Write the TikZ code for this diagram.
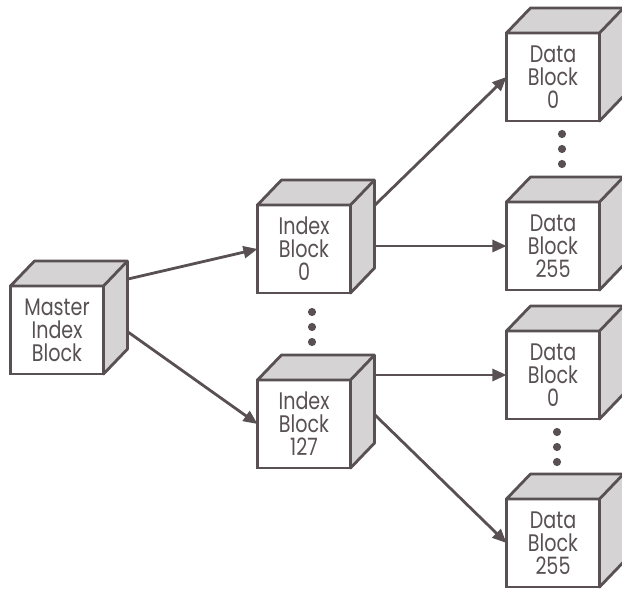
\documentclass[tikz,border=0pt]{standalone}
\usepackage{fontspec}
\usetikzlibrary{arrows.meta}
\newfontfamily\blockfont{Poppins}[FakeStretch=0.8]
\definecolor{ink}{RGB}{88,80,82}
\newcommand{\cubeback}[1]{%
  \filldraw[blockside] (#1.north west) -- ++(24,-25) -- ([shift={(24,-25)}]#1.north east)
    -- ([shift={(24,-25)}]#1.south east) -- (#1.south east) -- (#1.north east) -- cycle;
  \draw[blockside] (#1.north east) -- ++(24,-25);
}

\begin{document}
\begin{tikzpicture}[x=0.025cm, y=-0.025cm,
    blockface/.style ={draw=ink, line width=2pt, fill=white, text=ink, align=center,
      minimum width=2.325cm, minimum height=2.2cm, inner sep=0pt, outer sep=0pt,
      font=\blockfont\fontsize{17}{16.3}\selectfont},
    blockside/.style ={draw=ink, line width=2pt, fill=ink!25, line join=round},
    link/.style ={draw=ink, line width=2pt, -{Triangle[length=10pt, width=8.5pt]}}]
   \useasboundingbox (0,0) rectangle (622,589);
   \node[blockface] (master) at (57,330)  {Master\\Index\\Block};
   \node[blockface] (idx0)   at (304,249) {Index\\Block\\0};
   \node[blockface] (idx127) at (304,424) {Index\\Block\\127};
   \node[blockface] (dataA0)   at (553,77)  {Data\\Block\\0};
   \node[blockface] (dataA255) at (553,246) {Data\\Block\\255};
   \node[blockface] (dataB0)   at (553,375) {Data\\Block\\0};
   \node[blockface] (dataB255) at (553,543) {Data\\Block\\255};
   \foreach \n in {master, idx0, idx127, dataA0, dataA255, dataB0, dataB255}
     \cubeback{\n};
   \foreach \px/\py in {312/327, 562/149, 557/447}
     \foreach \k in {-15,0,15}
       \fill[ink] (\px,\py+\k) circle (2.9pt);
   \draw[link] ([shift={(24.5,-51)}]master.east) to (idx0.west);
   \draw[link] ([shift={(24.5,2)}]master.east) to (idx127.west);
   \draw[link] ([shift={(24.5,-44)}]idx0.east) to (dataA0.west);
   \draw[link] ([shift={(24.5,-3)}]idx0.east) to (dataA255.west);
   \draw[link] ([shift={(24.5,-49)}]idx127.east) to (dataB0.west);
   \draw[link] ([shift={(24.5,-9)}]idx127.east) to (dataB255.west);
 \end{tikzpicture}
\end{document}
